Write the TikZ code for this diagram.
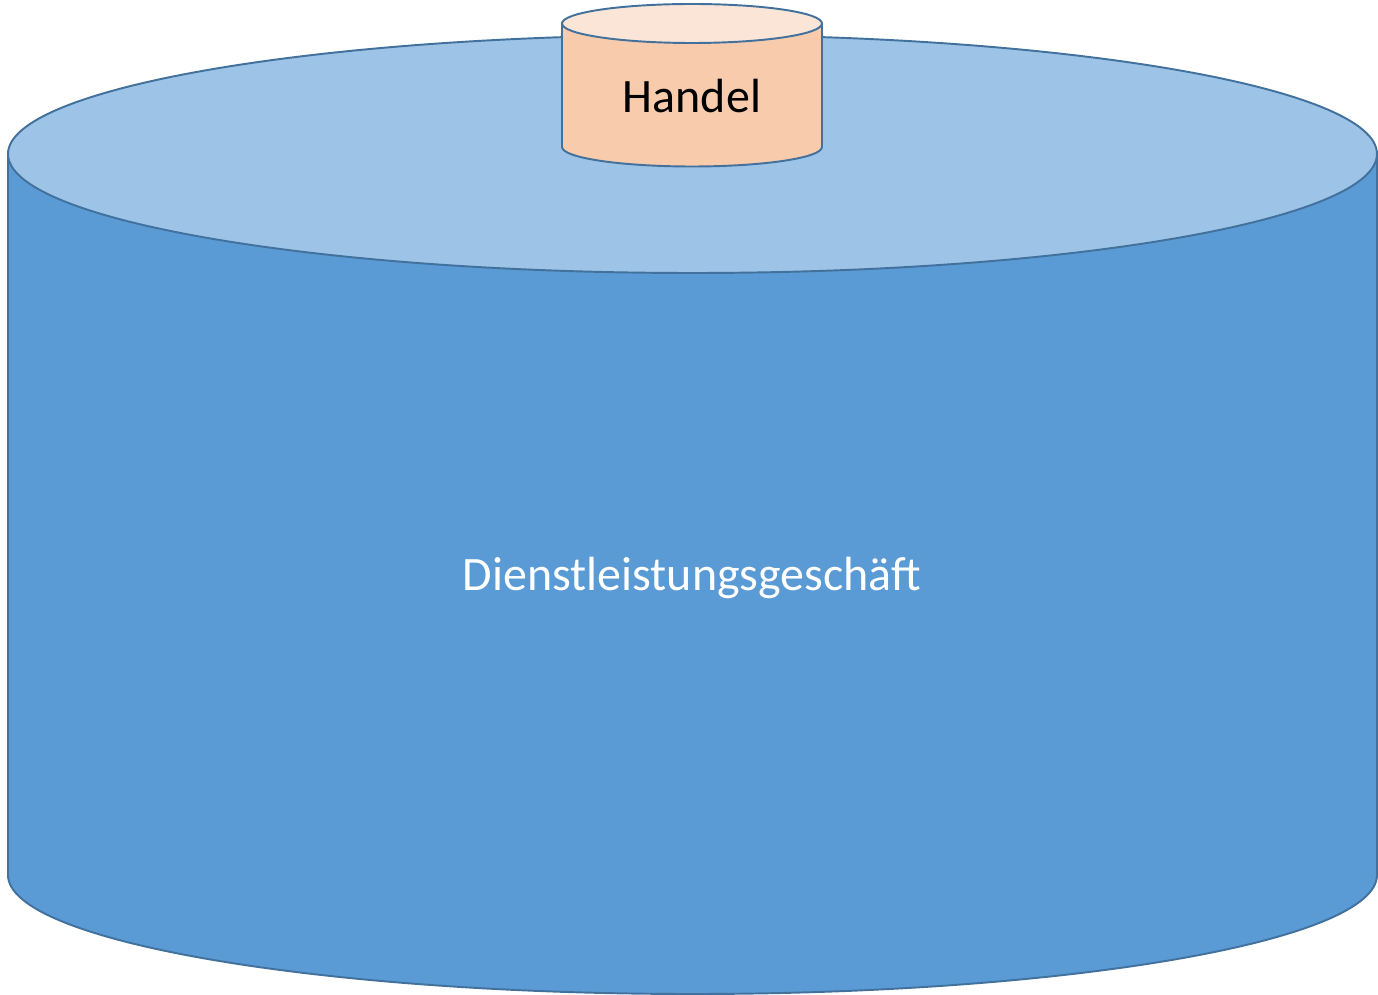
\documentclass[tikz,border=0pt]{standalone}
\usepackage{fontspec}
\setmainfont{Carlito}
\usepackage{xcolor}
\usetikzlibrary{positioning}
\definecolor{bodyblue}{HTML}{5B9BD5}
\definecolor{topblue}{HTML}{9DC3E6}
\definecolor{edgeblue}{HTML}{41719C}
\definecolor{bodypeach}{HTML}{F8CBAD}
\definecolor{toppeach}{HTML}{FBE5D6}

\begin{document}
\begin{tikzpicture}[
          shell/.style={draw=edgeblue, line width=1.1pt, line join=round},
          label/.style={font=\fontsize{27.3}{32}\selectfont, inner sep=0pt},
        ]
        \useasboundingbox (0,0) rectangle (27.56,19.88);
        % large cylinder
        \coordinate (bigtop) at (13.85,16.8);
        \coordinate (bigbot) at (13.85,2.38);
        \filldraw[shell, fill=bodyblue]
              (0.16,16.8) -- (0.16,2.38) arc[start angle=180, end angle=360,
              x radius=13.69, y radius=2.38] -- (27.54,16.8) -- cycle;
        \filldraw[shell, fill=topblue]
              (bigtop) ellipse[x radius=13.69, y radius=2.38];
        % small cylinder on the lid
        \coordinate (smalltop) at (13.84,19.41);
        \filldraw[shell, fill=bodypeach]
              (11.24,19.41) -- (11.24,16.94) arc[start angle=180, end angle=360,
              x radius=2.6, y radius=0.39] -- (16.44,19.41) -- cycle;
        \filldraw[shell, fill=toppeach]
              (smalltop) ellipse[x radius=2.6, y radius=0.39];
        \node[label, text=black] (handel) at (13.84,17.96) {Handel};
        \node[label, text=white] (dienst) at (13.84,8.32)
              {Dienstleistungsgeschäft};
      \end{tikzpicture}
\end{document}
